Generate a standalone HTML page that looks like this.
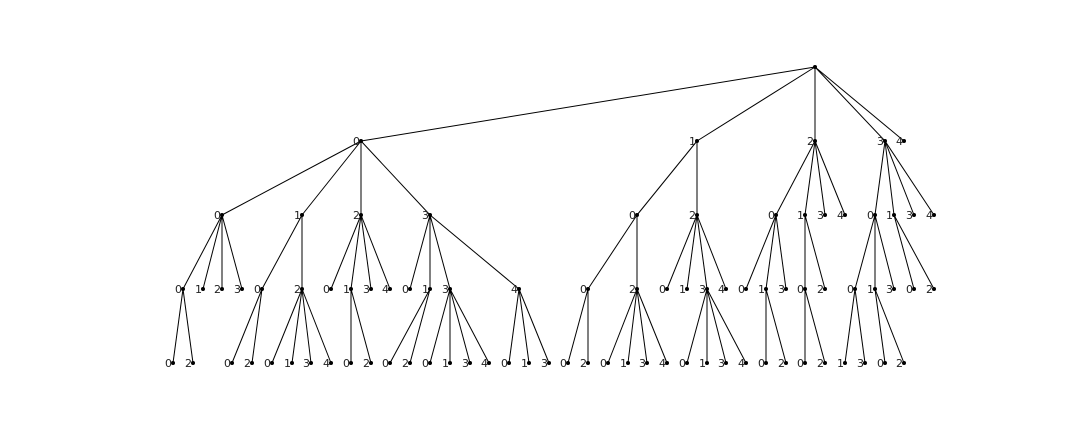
<!DOCTYPE html>
<html><head><meta charset="utf-8"><style>
html,body{margin:0;padding:0;background:#fff;}
svg text{font-family:"DejaVu Sans","Liberation Sans",sans-serif;font-size:11px;fill:#222;}
</style></head><body>
<svg id="chart" width="1080" height="432" xmlns="http://www.w3.org/2000/svg"></svg>
<script>
// Tree nodes: [id, parentId, label, xPosition]
const nodeIds = ["r","a0","a1","a2","a3","a4",
 "a0b0","a0b1","a0b2","a0b3","a1b0","a1b2","a2b0","a2b1","a2b3","a2b4","a3b0","a3b1","a3b3","a3b4",
 "a0b0c0","a0b0c1","a0b0c2","a0b0c3","a0b1c0","a0b1c2","a0b2c0","a0b2c1","a0b2c3","a0b2c4",
 "a0b3c0","a0b3c1","a0b3c3","a0b3c4","a1b0c0","a1b0c2","a1b2c0","a1b2c1","a1b2c3","a1b2c4",
 "a2b0c0","a2b0c1","a2b0c3","a2b1c0","a2b1c2","a3b0c0","a3b0c1","a3b0c3","a3b1c0","a3b1c2",
 "d1","d2","d3","d4","d5","d6","d7","d8","d9","d10","d11","d12","d13","d14","d15","d16","d17","d18","d19","d20",
 "d21","d22","d23","d24","d25","d26","d27","d28","d29","d30","d31","d32","d33","d34","d35","d36","d37"];
const parents = [null,"r","r","r","r","r",
 "a0","a0","a0","a0","a1","a1","a2","a2","a2","a2","a3","a3","a3","a3",
 "a0b0","a0b0","a0b0","a0b0","a0b1","a0b1","a0b2","a0b2","a0b2","a0b2",
 "a0b3","a0b3","a0b3","a0b3","a1b0","a1b0","a1b2","a1b2","a1b2","a1b2",
 "a2b0","a2b0","a2b0","a2b1","a2b1","a3b0","a3b0","a3b0","a3b1","a3b1",
 "a0b0c0","a0b0c0","a0b1c0","a0b1c0","a0b1c2","a0b1c2","a0b1c2","a0b1c2","a0b2c1","a0b2c1",
 "a0b3c1","a0b3c1","a0b3c3","a0b3c3","a0b3c3","a0b3c3","a0b3c4","a0b3c4","a0b3c4",
 "a1b0c0","a1b0c0","a1b0c2","a1b0c2","a1b0c2","a1b0c2","a1b2c3","a1b2c3","a1b2c3","a1b2c3",
 "a2b0c1","a2b0c1","a2b1c0","a2b1c0","a3b0c0","a3b0c0","a3b0c1","a3b0c1"];
const labels = ["","0","1","2","3","4",
 "0","1","2","3","0","2","0","1","3","4","0","1","3","4",
 "0","1","2","3","0","2","0","1","3","4",
 "0","1","3","4","0","2","0","1","3","4",
 "0","1","3","0","2","0","1","3","0","2",
 "0","2","0","2","0","1","3","4","0","2",
 "0","2","0","1","3","4","0","1","3",
 "0","2","0","1","3","4","0","1","3","4",
 "0","2","0","2","1","3","0","2"];
const xs = [815,361,697,815,885,904,
 222,302,361,430,637,697,776,805,825,845,875,894,914,934,
 183,203,222,242,262,302,331,351,371,390,
 410,430,450,519,588,637,667,687,707,726,
 746,766,786,805,825,855,875,894,914,934,
 173,193,232,252,272,292,311,331,351,371,
 390,410,430,450,470,489,509,529,549,
 568,588,608,628,647,667,687,707,726,746,
 766,786,805,825,845,865,885,904];
const levelY = [67,141,215,289,363];

const svg = document.getElementById('chart');
const NS = "http://www.w3.org/2000/svg";
const idx = {};
nodeIds.forEach((id,i)=>idx[id]=i);
function depth(i){let d=0,p=parents[i];while(p){d++;p=parents[idx[p]];}return d;}
const pos = nodeIds.map((id,i)=>({x:xs[i],y:levelY[depth(i)]}));
nodeIds.forEach((id,i)=>{
  if(!parents[i]) return;
  const p = pos[idx[parents[i]]], c = pos[i];
  const l = document.createElementNS(NS,'line');
  
  
  l.setAttribute('x1',p.x);l.setAttribute('y1',p.y);
  l.setAttribute('x2',c.x);l.setAttribute('y2',c.y);
  l.setAttribute('stroke','#000');l.setAttribute('stroke-width','1');
  svg.appendChild(l);
});
nodeIds.forEach((id,i)=>{
  const c = pos[i];
  const dot = document.createElementNS(NS,'circle');
  
  
  dot.setAttribute('cx',c.x);dot.setAttribute('cy',c.y);dot.setAttribute('r','2');
  dot.setAttribute('fill','#000');
  svg.appendChild(dot);
  if(labels[i]!==""){
    const t = document.createElementNS(NS,'text');
    
    
    t.setAttribute('x',c.x-1);t.setAttribute('y',c.y+4);
    t.setAttribute('text-anchor','end');
    t.textContent = labels[i];
    svg.appendChild(t);
  }
});
</script>
</body></html>
